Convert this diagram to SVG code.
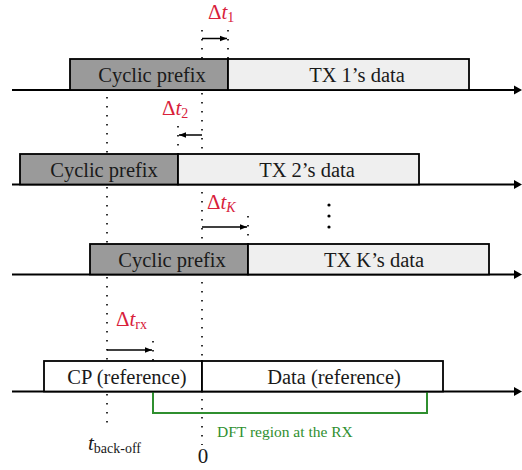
<svg xmlns="http://www.w3.org/2000/svg" width="522" height="470" viewBox="0 0 522 470">
<style>
.cp{fill:#9a9a9a;stroke:#000;stroke-width:1.8}
.dt{fill:#efefef;stroke:#000;stroke-width:1.8}
.rx{fill:#fff;stroke:#000;stroke-width:1.8}
text{font-family:'Liberation Serif','Times New Roman',Times,serif}
.lbl{font-size:20.5px;fill:#1a1a1a;text-anchor:middle}
.red{font-size:21px;fill:#d8203a}
.it{font-style:italic}
.sub{font-size:14px}
.grnt{font-size:15.5px;fill:#2f8f2f}
.blk{font-size:21px;fill:#1a1a1a}
.axis{stroke:#000;stroke-width:2;fill:none}
.dot{stroke:#000;stroke-width:1.6;stroke-dasharray:1.6 7.4;fill:none}
.arr{stroke:#000;stroke-width:1.5;fill:none}
.grn{stroke:#2f8f2f;stroke-width:2;fill:none}
</style>
<defs>
<marker id="ahs" viewBox="0 0 10 10" refX="10" refY="5" markerWidth="7" markerHeight="7" markerUnits="userSpaceOnUse" orient="auto">
<path d="M0,1 L10,5 L0,9 z" fill="#000"/>
</marker>
</defs>
<g id="connectors">
<line class="dot" x1="202" y1="30" x2="202" y2="445"/>
<line class="dot" x1="107" y1="97" x2="107" y2="427"/>
<line class="dot" x1="228" y1="30" x2="228" y2="59"/>
<line class="dot" x1="178" y1="126" x2="178" y2="154"/>
<line class="dot" x1="248" y1="216" x2="248" y2="244"/>
<line class="dot" x1="153" y1="341" x2="153" y2="361"/>
<line class="axis" x1="12" y1="90" x2="514" y2="90"/>
<path d="M514,85.5 L522,90 L514,94.5 z"/>
<line class="axis" x1="12" y1="184.5" x2="514" y2="184.5"/>
<path d="M514,180 L522,184.5 L514,189 z"/>
<line class="axis" x1="12" y1="274.5" x2="514" y2="274.5"/>
<path d="M514,270 L522,274.5 L514,279 z"/>
<line class="axis" x1="12" y1="391.5" x2="514" y2="391.5"/>
<path d="M514,387 L522,391.5 L514,396 z"/>
<line class="arr" x1="202" y1="38.5" x2="227" y2="38.5" marker-end="url(#ahs)"/>
<line class="arr" x1="202" y1="135" x2="179" y2="135" marker-end="url(#ahs)"/>
<line class="arr" x1="202" y1="227" x2="247" y2="227" marker-end="url(#ahs)"/>
<line class="arr" x1="107" y1="350" x2="152" y2="350" marker-end="url(#ahs)"/>
<path class="grn" d="M153,392 V413 H427 V392"/>
</g>
<g id="tx1">
<rect class="cp" x="70" y="59" width="158" height="31"/>
<rect class="dt" x="228" y="59" width="241" height="31"/>
<text class="lbl" x="152" y="82">Cyclic prefix</text>
<text class="lbl" x="357" y="82">TX 1’s data</text>
</g>
<g id="tx2">
<rect class="cp" x="20" y="154" width="158" height="30.5"/>
<rect class="dt" x="178" y="154" width="241" height="30.5"/>
<text class="lbl" x="104" y="176.5">Cyclic prefix</text>
<text class="lbl" x="307" y="176.5">TX 2’s data</text>
</g>
<g id="txk">
<rect class="cp" x="90" y="244" width="158" height="30.5"/>
<rect class="dt" x="248" y="244" width="241" height="30.5"/>
<text class="lbl" x="172" y="266.5">Cyclic prefix</text>
<text class="lbl" x="374" y="266.5">TX K’s data</text>
</g>
<g id="rxref">
<rect class="rx" x="44" y="361" width="158" height="30.5"/>
<rect class="rx" x="202" y="361" width="241" height="30.5"/>
<text class="lbl" x="127" y="383.5">CP (reference)</text>
<text class="lbl" x="334" y="383.5">Data (reference)</text>
</g>
<g id="vdots">
<circle cx="329" cy="205" r="1.6"/>
<circle cx="329" cy="216" r="1.6"/>
<circle cx="329" cy="227" r="1.6"/>
</g>
<g id="labels">
<text class="red" x="208" y="19">Δ<tspan class="it">t</tspan><tspan class="sub" dy="3">1</tspan></text>
<text class="red" x="162" y="115">Δ<tspan class="it">t</tspan><tspan class="sub" dy="3">2</tspan></text>
<text class="red" x="207" y="209">Δ<tspan class="it">t</tspan><tspan class="sub it" dy="3">K</tspan></text>
<text class="red" x="116" y="326">Δ<tspan class="it">t</tspan><tspan class="sub" dy="3">rx</tspan></text>
<text class="grnt" x="217" y="437">DFT region at the RX</text>
<text class="blk" x="88" y="450"><tspan class="it">t</tspan><tspan class="sub" dy="3">back-off</tspan></text>
<text class="blk" x="203" y="463" text-anchor="middle">0</text>
</g>
</svg>
